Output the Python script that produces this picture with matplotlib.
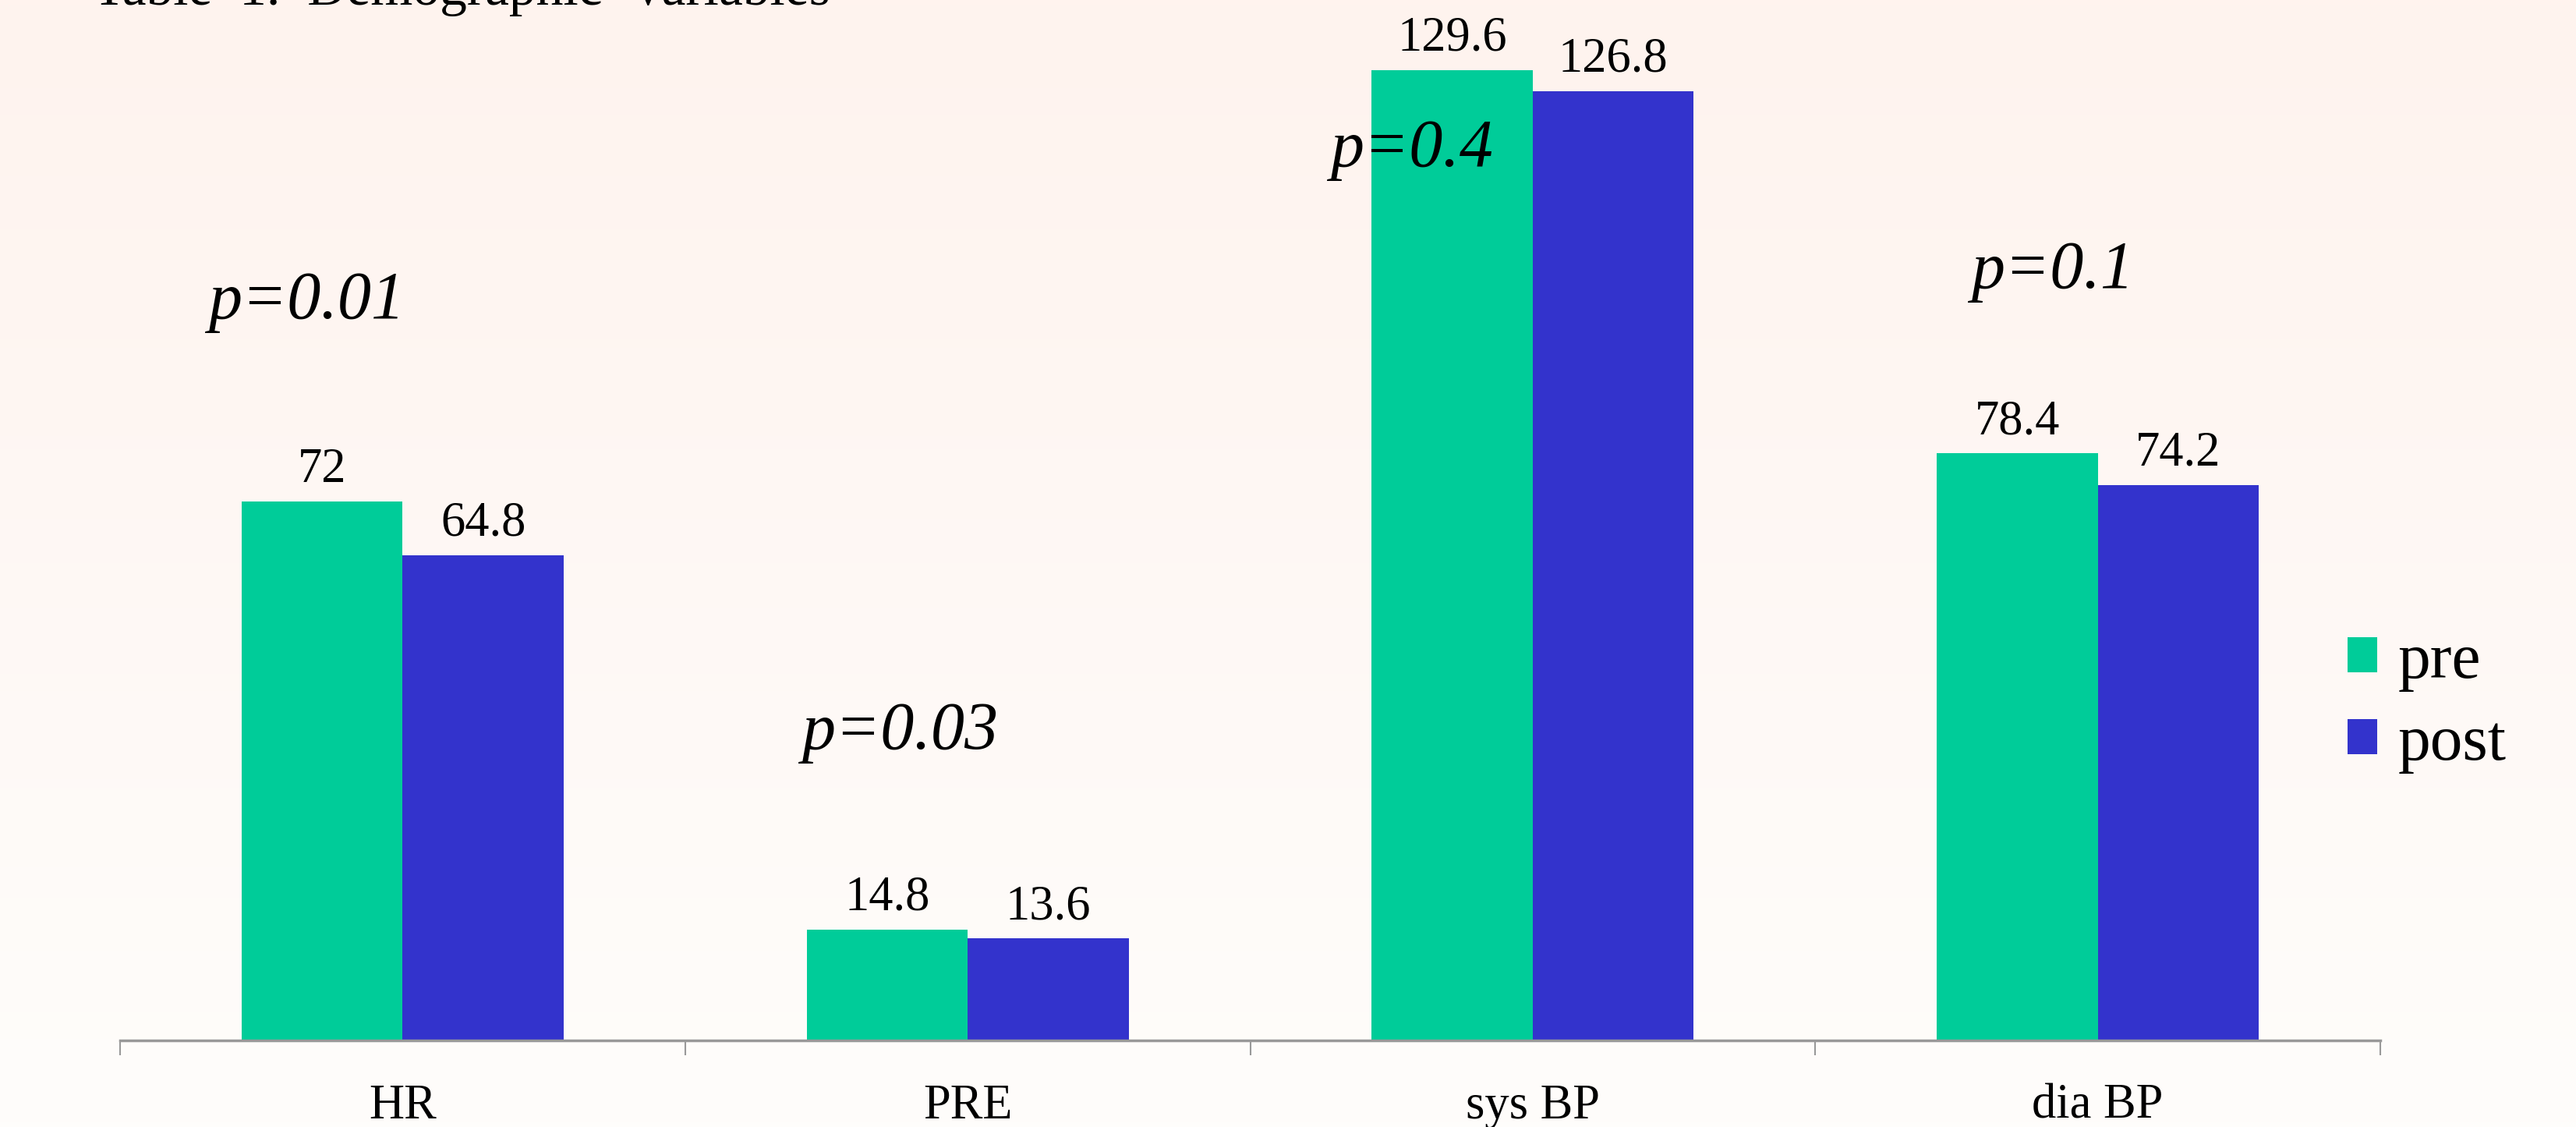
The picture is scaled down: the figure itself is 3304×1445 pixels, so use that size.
import matplotlib.pyplot as plt
import numpy as np
from matplotlib.colors import LinearSegmentedColormap

categories = ["HR", "PRE", "sys BP", "dia BP"]
pre = [72, 14.8, 129.6, 78.4]
post = [64.8, 13.6, 126.8, 74.2]
p_labels = ["p=0.01", "p=0.03", "p=0.4", "p=0.1"]
p_pos = [(-0.17, 96.5), (-0.12, 39.0), (-0.215, 116.8), (-0.08, 100.5)]

plt.rcParams["font.family"] = ["Liberation Serif", "DejaVu Serif"]

fig = plt.figure(figsize=(33.04, 14.45), dpi=100)

# soft pink-to-white backdrop
bg = fig.add_axes([0, 0, 1, 1], zorder=-1)
cmap = LinearSegmentedColormap.from_list("bg", ["#FFF3EE", "#FEFDFB"])
bg.imshow(np.linspace(0, 1, 256).reshape(-1, 1), aspect="auto", cmap=cmap,
          extent=[0, 1, 0, 1])
bg.axis("off")

ax = fig.add_axes([154 / 3304, 111 / 1445, 2899 / 3304, 1334 / 1445])
ax.set_facecolor("none")

x = np.arange(len(categories))
w = 0.285
b1 = ax.bar(x - w / 2, pre, w, color="#00CC99", label="pre")
b2 = ax.bar(x + w / 2, post, w, color="#3333CC", label="post")

for bars, vals in [(b1, pre), (b2, post)]:
    for rect, v in zip(bars, vals):
        ax.annotate(f"{v:g}", (rect.get_x() + rect.get_width() / 2, v),
                    xytext=(0, 18), textcoords="offset points",
                    ha="center", va="baseline", fontsize=45)

for i, (lab, (dx, yy)) in enumerate(zip(p_labels, p_pos)):
    ax.text(i + dx, yy, lab, ha="center", va="baseline", fontsize=62,
            style="italic")

ax.set_xlim(-0.5, len(categories) - 0.5)
ax.set_ylim(0, 1334 / 9.6)
ax.set_xticks(x)
ax.set_xticklabels(categories, fontsize=45)
ax.set_xticks(np.arange(-0.5, len(categories), 1), minor=True)
ax.tick_params(axis="x", which="major", length=0, pad=40)
ax.tick_params(axis="x", which="minor", length=14, width=1.5, color="#999999")
ax.set_yticks([])
for s in ["top", "right", "left"]:
    ax.spines[s].set_visible(False)
ax.spines["bottom"].set_color("#999999")
ax.spines["bottom"].set_linewidth(2.5)

fig.text(119 / 3304, 1 - 6 / 1445, "Table  1.  Demographic  Variables",
         fontsize=50, va="baseline", ha="left")

fig.legend(handles=[b1, b2], loc="center left",
           bbox_to_anchor=(3011 / 3304, 1 - 902 / 1445),
           frameon=False, fontsize=60, handlelength=0.46, handleheight=0.46,
           handletextpad=0.32, labelspacing=0.35, borderpad=0, borderaxespad=0)

fig.savefig("out.png", dpi=100)
